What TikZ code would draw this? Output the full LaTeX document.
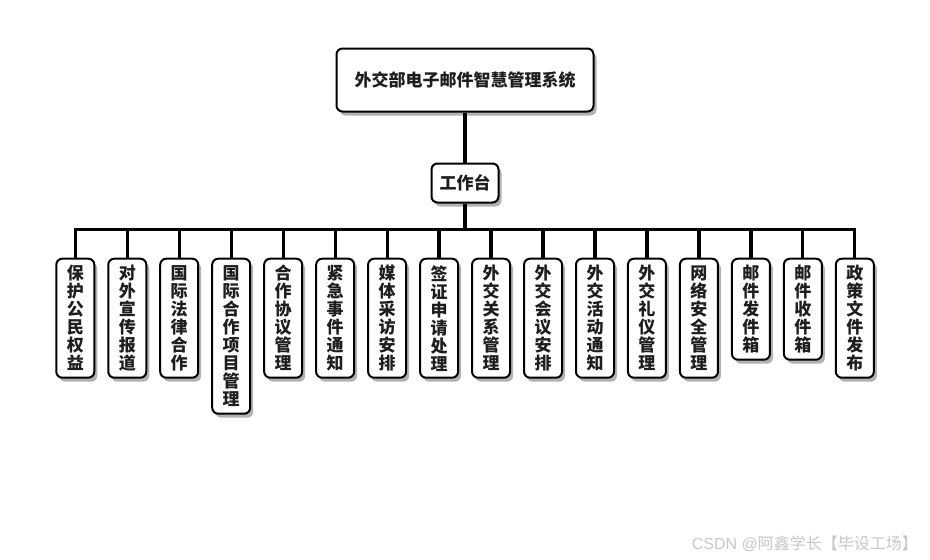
\documentclass[tikz,border=0pt]{standalone}
\usepackage{fontspec}
\setmainfont{Noto Sans CJK SC}
\newfontfamily\wmfont{Liberation Sans}
\usetikzlibrary{shadows}
\definecolor{ink}{HTML}{1E1E1E}
\tikzset{
  box/.style={draw=black, line width=2pt, rounded corners=6pt, fill=white,
    drop shadow={shadow xshift=3pt, shadow yshift=-4pt, fill=black, opacity=0.3},
    text=ink, font=\fontsize{17}{18}\selectfont\bfseries, inner sep=0pt, align=center},
  vbox/.style={box, anchor=north, minimum width=38pt, minimum height={18pt*#1+11pt},
    font=\fontsize{17}{18}\selectfont\bfseries},
  conn/.style={draw=black, line width=3.2pt},
}
\begin{document}
\begin{tikzpicture}[x=1pt,y=-1pt]
\useasboundingbox (0,0) rectangle (930,560);
\node[box, minimum width=257pt, minimum height=63pt] (root) at (465,80) {外交部电子邮件智慧管理系统};
\node[box, minimum width=67pt, minimum height=39pt] (work) at (465,183) {工作台};
\coordinate (bar) at (465,229.3);
\foreach \i/\t/\n in {
 1/{保\\护\\公\\民\\权\\益}/6,
 2/{对\\外\\宣\\传\\报\\道}/6,
 3/{国\\际\\法\\律\\合\\作}/6,
 4/{国\\际\\合\\作\\项\\目\\管\\理}/8,
 5/{合\\作\\协\\议\\管\\理}/6,
 6/{紧\\急\\事\\件\\通\\知}/6,
 7/{媒\\体\\采\\访\\安\\排}/6,
 8/{签\\证\\申\\请\\处\\理}/6,
 9/{外\\交\\关\\系\\管\\理}/6,
 10/{外\\交\\会\\议\\安\\排}/6,
 11/{外\\交\\活\\动\\通\\知}/6,
 12/{外\\交\\礼\\仪\\管\\理}/6,
 13/{网\\络\\安\\全\\管\\理}/6,
 14/{邮\\件\\发\\件\\箱}/5,
 15/{邮\\件\\收\\件\\箱}/5,
 16/{政\\策\\文\\件\\发\\布}/6}{
  \node[vbox=\n] (b\i) at ({75.3+51.97*(\i-1)},257.7) {\t};
}
\draw[conn, line width=3.8pt] (root.south) -- (work.north);
\draw[conn] (work.south) -- (bar);
\foreach \i in {1,...,16}{
  \draw[conn] (b\i.north) |- (bar);
}
\node[text=black!22, font=\fontsize{16}{18}\selectfont, anchor=east, inner sep=0pt] (wm) at (918,544) {{\wmfont CSDN @}阿鑫学长【毕设工场】};
\end{tikzpicture}
\end{document}
